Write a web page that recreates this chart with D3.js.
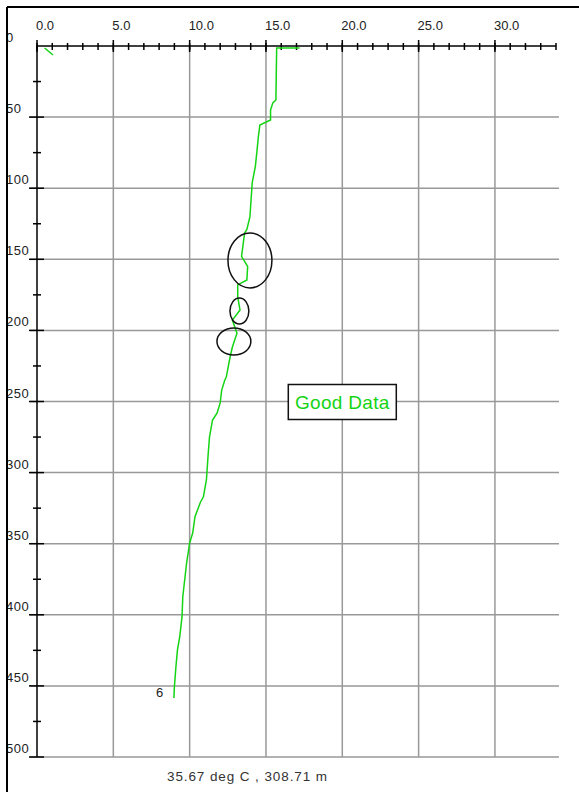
<html>
<head>
<meta charset="utf-8">
<script src="https://d3js.org/d3.v7.min.js"></script>
<style>
body { margin: 0; background: #fff; }
text { font-family: "Liberation Sans", Arial, sans-serif; }
</style>
</head>
<body>
<svg id="chart" width="579" height="792"></svg>
<script>
// axis ticks
const tempTicks = [0, 5, 10, 15, 20, 25, 30];
const tempMinor = d3.range(0, 35, 1);
const depthTicks = [0, 50, 100, 150, 200, 250, 300, 350, 400, 450, 500];
const depthMinor = [25, 75, 125, 175, 225, 275, 325, 375, 425, 475];

// surface blip
const blipTemp = [0.5, 1.05];
const blipDepth = [1.4, 6.3];

// temperature profile (deg C) vs depth (m)
const profTemp = [17.2, 15.7, 15.65, 15.45, 15.3, 15.3, 14.6, 14.5, 14.4, 14.3, 14.1, 13.95, 13.75, 13.6,
  13.4, 13.8, 13.75, 13.15, 13.15, 13.3, 12.8, 13.1, 12.8, 12.65, 12.4, 12.3, 12.1, 12.0, 11.8, 11.5,
  11.3, 11.2, 11.1, 10.9, 10.7, 10.35, 10.2, 10.0, 9.8, 9.55, 9.5, 9.35, 9.2, 9.1, 9.0, 8.97];
const profDepth = [1.4, 1.4, 38, 40, 45, 52, 55.6, 64, 75, 85, 96, 120, 129, 131.5,
  148, 155, 164.5, 168, 176.5, 185.7, 192.7, 202, 211.7, 218.7, 232.8, 235, 242, 251, 258, 263,
  275, 289, 305, 317, 321, 331, 342.5, 349.5, 363.6, 387.5, 401.5, 415.6, 424.8, 436.7, 450.8, 458.5];

// circled spots: centre temp, centre depth, half-width (deg), half-height (m)
const markTemp = [13.95, 13.26, 12.9];
const markDepth = [150.8, 186.4, 207.8];
const markRt = [1.44, 0.62, 1.11];
const markRd = [19.3, 9.1, 9.5];

const readout = "35.67 deg C , 308.71 m";

const svg = d3.select("#chart");
const x = d3.scaleLinear().domain([0, 34]).range([37, 556]);
const y = d3.scaleLinear().domain([0, 500]).range([46, 757]);

// grid
svg.append("g").selectAll("line")
  .data(tempTicks.slice(1))
  .join("line")
  .attr("x1", d => x(d)).attr("x2", d => x(d))
  .attr("y1", y(0)).attr("y2", y(500))
  .attr("stroke", "#999").attr("stroke-width", 1.5);
svg.append("g").selectAll("line")
  .data(depthTicks.slice(1))
  .join("line")
  .attr("x1", x(0) - 7).attr("x2", 559)
  .attr("y1", d => y(d)).attr("y2", d => y(d))
  .attr("stroke", "#999").attr("stroke-width", 1.5);

// top axis
const xa = svg.append("g").attr("transform", "translate(0," + y(0) + ")");
xa.append("line").attr("x1", x(0)).attr("x2", x(34)).attr("stroke", "#000").attr("stroke-width", 1.5);
xa.selectAll(".mn").data(tempMinor).join("line").attr("class", "mn")
  .attr("x1", d => x(d)).attr("x2", d => x(d)).attr("y1", -3).attr("y2", 4)
  .attr("stroke", "#000").attr("stroke-width", 1.5);
xa.selectAll(".mj").data(tempTicks).join("line").attr("class", "mj")
  .attr("x1", d => x(d)).attr("x2", d => x(d)).attr("y1", -6).attr("y2", 6)
  .attr("stroke", "#000").attr("stroke-width", 1.5);
xa.selectAll("text").data(tempTicks).join("text")
  .attr("x", d => x(d) - 1).attr("y", -16)
  .attr("font-size", 13).attr("fill", "#222")
  .text(d3.format(".1f"));

// left axis
const ya = svg.append("g").attr("transform", "translate(" + x(0) + ",0)");
ya.append("line").attr("y1", y(0)).attr("y2", y(500)).attr("stroke", "#000").attr("stroke-width", 1.5);
ya.selectAll(".mn").data(depthMinor).join("line").attr("class", "mn")
  .attr("y1", d => y(d)).attr("y2", d => y(d)).attr("x1", -4).attr("x2", 4)
  .attr("stroke", "#000").attr("stroke-width", 1.5);
ya.selectAll(".mj").data(depthTicks.slice(1)).join("line").attr("class", "mj")
  .attr("y1", d => y(d)).attr("y2", d => y(d)).attr("x1", -8).attr("x2", 7)
  .attr("stroke", "#000").attr("stroke-width", 1.5);
ya.selectAll("text").data(depthTicks).join("text")
  .attr("x", 6 - x(0)).attr("y", d => y(d) - 4)
  .attr("font-size", 13).attr("letter-spacing", 0.5).attr("fill", "#222")
  .text(d => d);

// profile
const line = d3.line().x(d => x(d[0])).y(d => y(d[1]));
svg.append("path")
  .attr("d", line(d3.zip(blipTemp, blipDepth)))
  .attr("fill", "none").attr("stroke", "#14d414").attr("stroke-width", 1.5);
svg.append("path")
  .attr("d", line(d3.zip(profTemp, profDepth)))
  .attr("fill", "none").attr("stroke", "#14d414").attr("stroke-width", 1.5);

// circled spots
svg.append("g").selectAll("ellipse")
  .data(d3.range(markTemp.length))
  .join("ellipse")
  .attr("cx", i => x(markTemp[i]))
  .attr("cy", i => y(markDepth[i]))
  .attr("rx", i => x(markRt[i]) - x(0))
  .attr("ry", i => y(markRd[i]) - y(0))
  .attr("fill", "none").attr("stroke", "#111").attr("stroke-width", 1.5);

// end marker
const last = profTemp.length - 1;
svg.append("text")
  .attr("x", x(profTemp[last]) - 18).attr("y", y(profDepth[last]) - 1)
  .attr("font-size", 13).attr("fill", "#222")
  .text("6");

// note box
const nb = svg.append("g").attr("transform", "translate(" + x(20) + "," + y(250) + ")");
nb.append("rect").attr("x", -54).attr("y", -17).attr("width", 108).attr("height", 35)
  .attr("fill", "#fff").attr("stroke", "#111").attr("stroke-width", 1.5);
nb.append("text").attr("text-anchor", "middle").attr("y", 7)
  .attr("font-size", 19).attr("letter-spacing", 0.3).attr("fill", "#14d414")
  .text("Good Data");

// readout
svg.append("text")
  .attr("x", 167).attr("y", 781)
  .attr("font-size", 13.5).attr("letter-spacing", 0.9).attr("fill", "#333")
  .text(readout);

// window frame
svg.append("line").attr("x1", 7).attr("x2", 579).attr("y1", 7).attr("y2", 7)
  .attr("stroke", "#000").attr("stroke-width", 2);
svg.append("line").attr("x1", 7).attr("x2", 7).attr("y1", 7).attr("y2", 792)
  .attr("stroke", "#000").attr("stroke-width", 2);
</script>
</body>
</html>
